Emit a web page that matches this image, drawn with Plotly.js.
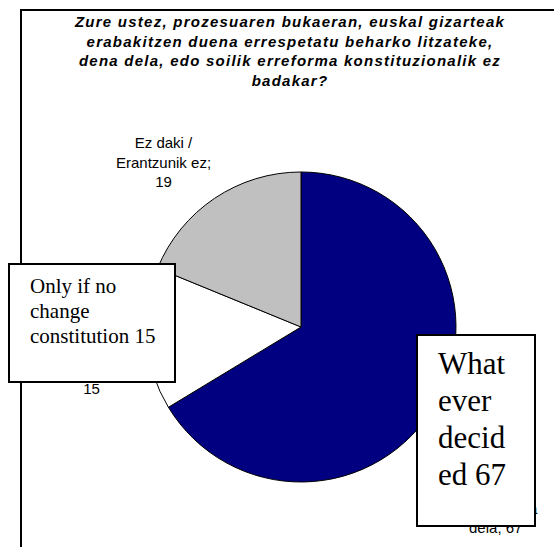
<!DOCTYPE html>
<html>
<head>
<meta charset="utf-8">
<script src="https://cdn.plot.ly/plotly-3.0.1.min.js"></script>
<style>
  html, body { margin: 0; padding: 0; background: #ffffff; }
  #chart { width: 554px; height: 547px; }
  .gtitle { letter-spacing: 1.25px; }
</style>
</head>
<body>
<div id="chart"></div>
<script>
// ---- data ----
const titleLines = [
  'Zure ustez, prozesuaren bukaeran, euskal gizarteak',
  'erabakitzen duena errespetatu beharko litzateke,',
  'dena dela, edo soilik erreforma konstituzionalik ez',
  'badakar?'
];
const categories = [
  'Erabakitzen duena, dena dela',
  'Soilik erreforma konstituzionalik ez badakar',
  'Ez daki / Erantzunik ez'
];
const sliceLabels = [
  'Erabakitzen<br>duena, dena<br>dela',
  'Soilik erreforma<br>konstituzionalik<br>ez badakar',
  'Ez daki /<br>Erantzunik ez'
];
const values = [67, 15, 19];
const valueOnNewLine = [false, true, true];
const colors = ['#000080', '#FFFFFF', '#C0C0C0'];
const boxALines = ['Only if no', 'change', 'constitution ' + values[1]];
const boxBLines = ['What', 'ever', 'decid', 'ed ' + values[0]];

// ---- layout helpers (pixel -> paper) ----
const W = 554, H = 547;
const px = x => x / W;
const py = y => 1 - y / H;

const labelPos = [
  {x: 496, y: 508},
  {x: 92, y: 359},
  {x: 163, y: 162.5}
];

const annotations = [];
// slice labels (drawn first so the boxes cover them)
values.forEach((v, i) => {
  annotations.push({
    xref: 'paper', yref: 'paper',
    x: px(labelPos[i].x), y: py(labelPos[i].y),
    xanchor: 'center', yanchor: 'middle',
    showarrow: false,
    align: 'center',
    text: sliceLabels[i] + ';' + (valueOnNewLine[i] ? '<br>' : ' ') + v,
    font: {family: 'Liberation Sans, Arial, sans-serif', size: 15, color: '#000000'}
  });
});

function addBox(x0, y0, x1, y1) {
  annotations.push({
    xref: 'paper', yref: 'paper',
    x: px(x0), y: py(y0),
    xanchor: 'left', yanchor: 'top',
    showarrow: false,
    text: ' ',
    width: (x1 - x0) - 4, height: (y1 - y0) - 4,
    borderpad: 0, borderwidth: 2,
    bordercolor: '#000000', bgcolor: '#FFFFFF'
  });
}
function addLines(lines, x, yStart, step, size) {
  lines.forEach((t, i) => {
    annotations.push({
      xref: 'paper', yref: 'paper',
      x: px(x), y: py(yStart + i * step),
      xanchor: 'left', yanchor: 'middle',
      showarrow: false, align: 'left',
      text: t,
      font: {family: 'Liberation Serif, Times New Roman, serif', size: size, color: '#000000'}
    });
  });
}
addBox(8, 263, 176, 383);
addLines(boxALines, 28, 286, 25, 21);
addBox(416, 334, 536, 527);
addLines(boxBLines, 436, 363.5, 37, 31);

const trace = {
  type: 'pie',
  labels: categories,
  values: values,
  sort: false,
  direction: 'clockwise',
  rotation: 0,
  marker: {colors: colors, line: {color: '#000000', width: 1}},
  textinfo: 'none',
  hoverinfo: 'label+value',
  domain: {x: [px(146), px(456)], y: [py(482), py(172)]}
};

const layout = {
  width: W, height: H,
  margin: {l: 0, r: 0, t: 0, b: 0, pad: 0},
  paper_bgcolor: '#FFFFFF',
  plot_bgcolor: '#FFFFFF',
  showlegend: false,
  title: {
    text: titleLines.join('<br>'),
    x: px(290), xanchor: 'center', xref: 'paper',
    y: 1 - 27 / H, yanchor: 'top', yref: 'container',
    pad: {t: 0, b: 0, l: 0, r: 0},
    font: {family: 'Liberation Sans, Arial, sans-serif', size: 15, weight: 'bold', style: 'italic', color: '#000000'}
  },
  shapes: [{
    type: 'rect', xref: 'paper', yref: 'paper', layer: 'below',
    x0: px(21), y0: py(10), x1: px(900), y1: py(900),
    line: {color: '#000000', width: 2}, fillcolor: 'rgba(0,0,0,0)'
  }],
  annotations: annotations
};

Plotly.newPlot('chart', [trace], layout, {displayModeBar: false, staticPlot: true});
</script>
</body>
</html>
